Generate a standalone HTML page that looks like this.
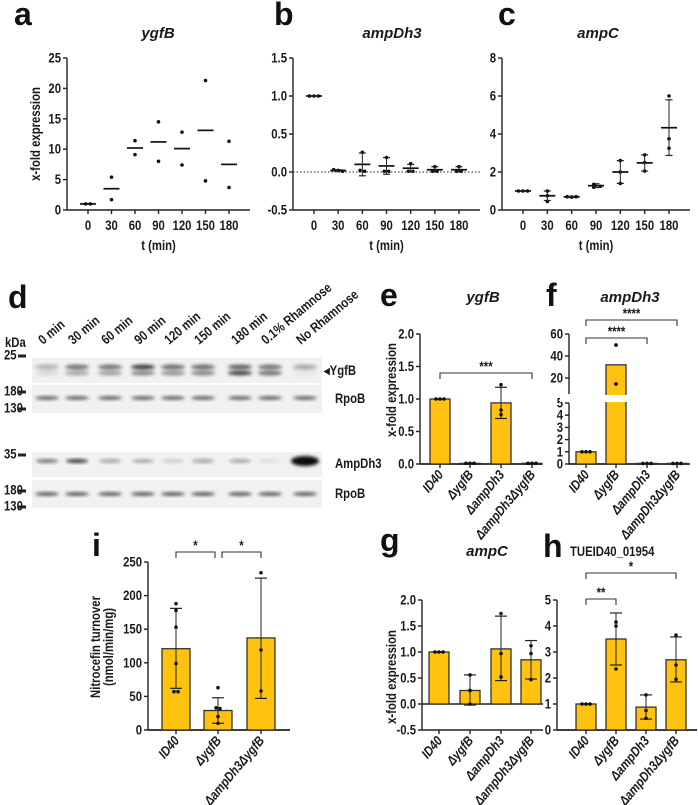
<!DOCTYPE html>
<html><head><meta charset="utf-8"><style>
body{margin:0;background:#fff}
svg{display:block;font-family:"Liberation Sans",sans-serif;font-weight:bold}
.ax{stroke:#222;stroke-width:1.4;fill:none}
.t{font-size:13.5px;fill:#1a1a1a;font-weight:bold}
.ttl{font-size:15px;font-style:italic;fill:#1a1a1a;font-weight:bold}
.let{font-size:32px;font-weight:bold;fill:#111}
</style></head><body>
<svg id="fig" width="698" height="805" viewBox="0 0 698 805"></svg>
<script>
// ---- data panel a ----
const timeCats=["0","30","60","90","120","150","180"];
const aPoints=[[1,1],[5.4,1.7],[11.4,9.1],[14.5,8.0],[12.8,7.4],[21.3,4.8],[11.3,3.7]];
const aMeans=[1,3.5,10.2,11.2,10.1,13.1,7.5];
const aTicks=[0,5,10,15,20,25];
// ---- panel b ----
const bPoints=[[1,1,1],[0.03,0.02,0.01],[0.26,0.02,0.01],[0.19,0.01,0.01],[0.11,0.01,0.01],[0.07,0.01,0.01],[0.07,0.01,0.01]];
const bMeans=[1,0.02,0.1,0.08,0.05,0.03,0.03];
const bErrLo=[1,0.01,-0.05,-0.03,0,0.0,0.0];
const bErrHi=[1,0.03,0.25,0.19,0.1,0.07,0.07];
const bTicks=[-0.5,0,0.5,1.0,1.5];
// ---- panel c ----
const cPoints=[[1,1,1],[1.0,0.75,0.45],[0.7,0.68,0.7],[1.35,1.2,1.25],[2.6,2.0,1.4],[2.9,2.5,2.05],[6.0,3.75,3.25]];
const cMeans=[1,0.75,0.69,1.28,2.0,2.48,4.33];
const cErrLo=[1,0.5,0.66,1.18,1.4,2.05,2.87];
const cErrHi=[1,1.0,0.72,1.38,2.6,2.9,5.8];
const cTicks=[0,2,4,6,8];
// ---- bar panels ----
const strains=["ID40","\u0394ygfB","\u0394ampDh3","\u0394ampDh3\u0394ygfB"];
const eVals=[1.0,0.01,0.94,0.01], eLo=[1,0.01,0.70,0.01], eHi=[1,0.01,1.18,0.01];
const ePts=[[1,1,1],[0.01,0.01,0.01],[1.22,0.83,0.76],[0.01,0.01,0.01]];
const eTicks=[0,0.5,1.0,1.5,2.0];
const fVals=[1.0,32,0.05,0.05];
const fPts=[[1,1,1],[50,14.6],[0.05,0.05,0.05],[0.05,0.05,0.05]];
const fTicksLow=[0,1,2,3,4,5], fTicksHigh=[20,40,60];
const gVals=[1.0,0.26,1.06,0.85], gLo=[1,-0.02,0.45,0.48], gHi=[1,0.56,1.69,1.22];
const gPts=[[1,1,1],[0.56,0.26,0.0],[1.74,0.97,0.52],[1.12,0.97,0.47]];
const gTicks=[-0.5,0,0.5,1.0,1.5,2.0];
const hVals=[1.0,3.5,0.88,2.7], hLo=[1,2.5,0.42,1.85], hHi=[1,4.5,1.35,3.58];
const hPts=[[1,1,1],[4.15,4.0,2.35],[1.35,0.75,0.45],[3.65,2.5,1.95]];
const hTicks=[0,1,2,3,4,5];
const iCats=["ID40","\u0394ygfB","\u0394ampDh3\u0394ygfB"];
const iVals=[121,29,137], iLo=[62,10,47], iHi=[181,48,226];
const iPts=[[188,178,153,99,57,57],[63,33,32,20,10],[234,119,58]];
const iTicks=[0,50,100,150,200,250];
const lanes=["0 min","30 min","60 min","90 min","120 min","150 min","180 min","0.1% Rhamnose","No Rhamnose"];

const S=document.getElementById('fig');const NS="http://www.w3.org/2000/svg";
function el(tag,attrs,parent){const e=document.createElementNS(NS,tag);for(const k in attrs)e.setAttribute(k,attrs[k]);(parent||S).appendChild(e);return e;}
function txt(x,y,s,cls,anchor,rot,extra,parent){const tr=`translate(${x},${y})`+(rot?` rotate(${rot})`:'')+(cls==='t'?' scale(0.84,1)':'');
 const e=el('text',Object.assign({x:0,y:0,class:cls,'text-anchor':anchor||'middle',transform:tr},extra||{}),parent);e.textContent=s;return e;}
function lin(d0,d1,r0,r1){return v=>r0+(v-d0)*(r1-r0)/(d1-d0);}
function letter(x,y,s){const t=txt(x,y,s,'let','start');

}
function yAxis(g,ax,y,ticks,top,bot,fmt){el('line',{x1:ax,y1:top,x2:ax,y2:bot,class:'ax'},g);
ticks.forEach(v=>{el('line',{x1:ax-4,y1:y(v),x2:ax,y2:y(v),class:'ax'},g);const t=txt(ax-6,y(v)+4.5,fmt?fmt(v):String(v),'t','end',0,null,g);

});}
function dot(g,x,y,r){el('circle',{cx:x,cy:y,r:r||1.8,fill:'#111'},g);}
function errbar(g,x,lo,hi,w){el('line',{x1:x,y1:lo,x2:x,y2:hi,stroke:'#222','stroke-width':1},g);
el('line',{x1:x-w,y1:lo,x2:x+w,y2:lo,stroke:'#222','stroke-width':1.2},g);el('line',{x1:x-w,y1:hi,x2:x+w,y2:hi,stroke:'#222','stroke-width':1.2},g);}
function placeDots(g,x,pts,y,sp){pts.forEach((v,j)=>{let o=0;const same=pts.filter(w=>Math.abs(y(w)-y(v))<2.5).length;if(same>1){const k=pts.slice(0,j).filter(w=>Math.abs(y(w)-y(v))<2.5).length;o=(k-(same-1)/2)*sp;}dot(g,x+o,y(v),1.8);});}

function scatterPanel(name,ax,right,d0,d1,ticks,pts,means,lo,hi,fmt,dotted){
 const g=el('g',{});
 const y=lin(d0,d1,210,58);
 yAxis(g,ax,y,ticks,58,210,fmt);
 el('line',{x1:ax,y1:210,x2:right,y2:210,class:'ax'},g);
 if(dotted)el('line',{x1:ax,y1:y(0),x2:right,y2:y(0),stroke:'#222','stroke-width':1,'stroke-dasharray':'1.5,2'},g);
 const step=(right-ax-42)/6;
 timeCats.forEach((c,i)=>{const x=ax+21+i*step;el('line',{x1:x,y1:210,x2:x,y2:214,class:'ax'},g);
  const t=txt(x,230,c,'t','middle',0,null,g);
  
  
  placeDots(g,x,pts[i],y,4.5);
  el('line',{x1:x-8,y1:y(means[i]),x2:x+8,y2:y(means[i]),stroke:'#111','stroke-width':1.7},g);
  if(lo)errbar(g,x,y(lo[i]),y(hi[i]),3.5);
 });
 const xt=txt((ax+right)/2,250,'t (min)','t','middle',0,null,g);
 
 
 return g;}

letter(14,25,'a');letter(274,25,'b');letter(498,25,'c');
txt(158,38,'ygfB','ttl');txt(392,38,'ampDh3','ttl');txt(598,38,'ampC','ttl');
scatterPanel('panel-a-ygfB',67,250,0,25,aTicks,aPoints,aMeans,null,null);
scatterPanel('panel-b-ampDh3',293,480,-0.5,1.5,bTicks,bPoints,bMeans,bErrLo,bErrHi,v=>v.toFixed(1),true);
scatterPanel('panel-c-ampC',502,690,0,8,cTicks,cPoints,cMeans,cErrLo,cErrHi);
const ya=txt(40,134,'x-fold expression','t','middle',-90);


// ---- Western blot d ----
letter(8,308,'d');
const wb=el('g',{});
const defs=el('defs',{});const f=el('filter',{id:'bl',x:'-50%',y:'-50%',width:'200%',height:'200%'},defs);el('feGaussianBlur',{stdDeviation:'1.5'},f);
const laneX=[47,77,110,143,173,203,240,270,305];
lanes.forEach((l,i)=>{const t=txt(laneX[i]-4,345,l,'t','start',-40,null,wb);
 });
txt(5,347,'kDa','t','start',0,null,wb);
const strips=[[358,383],[385,413],[452,477],[480,508]];
strips.forEach(s=>el('rect',{x:32,y:s[0],width:290,height:s[1]-s[0],fill:'#f1f1f1'},wb));
const ygf=[0.3,0.6,0.6,0.85,0.65,0.65,0.7,0.6,0.35], ygf2=[0.1,0.35,0.4,0.5,0.45,0.5,0.8,0.6,0.05];
const amp=[0.55,0.8,0.35,0.3,0.15,0.35,0.3,0.08,1.0];
laneX.forEach((x,i)=>{
 el('ellipse',{cx:x,cy:367,rx:12,ry:2.5,fill:'#222','fill-opacity':ygf[i],filter:'url(#bl)'},wb);
 el('ellipse',{cx:x,cy:373,rx:12,ry:2.5,fill:'#222','fill-opacity':ygf2[i],filter:'url(#bl)'},wb);
 el('ellipse',{cx:x,cy:398,rx:12,ry:2,fill:'#333','fill-opacity':0.7,filter:'url(#bl)'},wb);
 el('ellipse',{cx:x,cy:461,rx:i==8?14:11,ry:i==8?5:2,fill:'#111','fill-opacity':amp[i],filter:'url(#bl)'},wb);
 el('ellipse',{cx:x,cy:494,rx:12,ry:2,fill:'#333','fill-opacity':0.75,filter:'url(#bl)'},wb);
});
[[356,'25'],[392,'180'],[409,'130'],[455,'35'],[491,'180'],[507,'130']].forEach(m=>{txt(4,m[0]+3.5,m[1],'t','start',0,{'font-size':'10'},wb);el('rect',{x:18,y:m[0]-1.5,width:8,height:3,fill:'#222'},wb);});
txt(324,375,'\u25C2YgfB','t','start',0,null,wb);txt(335,403,'RpoB','t','start',0,null,wb);txt(335,468,'AmpDh3','t','start',0,null,wb);txt(335,498,'RpoB','t','start',0,null,wb);

// ---- bar panels ----
function barPanel(name,ax,right,y,ticks,cats,xs,vals,lo,hi,pts,bw,fmt,top,bot,zero){
 const g=el('g',{});
 yAxis(g,ax,y,ticks,top,bot,fmt);
 el('line',{x1:ax,y1:y(zero),x2:right,y2:y(zero),class:'ax'},g);
 el('line',{x1:ax,y1:bot,x2:right,y2:bot,class:'ax'},g);
 cats.forEach((c,i)=>{const x=xs[i];
  const b=el('rect',{x:x-bw/2,y:Math.min(y(vals[i]),y(zero)),width:bw,height:Math.max(1,Math.abs(y(zero)-y(vals[i]))),fill:'#FFC20E',stroke:'#333','stroke-width':1.3},g);
  
  if(lo)errbar(g,x,y(lo[i]),y(hi[i]),6);
  placeDots(g,x,pts[i],y,4);
  el('line',{x1:x,y1:bot,x2:x,y2:bot+4,class:'ax'},g);
  const t=txt(x+4,bot+11,c,'t','end',-50,{'font-style':'italic'},g);
  
 });
 return g;}
function bracket(x1,x2,y,s){el('path',{d:`M${x1},${y+6}V${y}H${x2}V${y+6}`,stroke:'#333',fill:'none','stroke-width':1.1});txt((x1+x2)/2,y-2,s,'t','middle',0,{'font-size':'16'});}

// e
letter(380,306,'e');txt(483,302,'ygfB','ttl');
barPanel('panel-e-ygfB',420,542,lin(0,2,464,334),eTicks,strains,[440,470,501,532],eVals,eLo,eHi,ePts,20,v=>v.toFixed(1),334,464,0);
bracket(440,532,373,'***');
const ye=txt(396,390,'x-fold expression','t','middle',-90);
// f broken axis
letter(546,306,'f');txt(630,302,'ampDh3','ttl');
const fy=v=>v<=5?lin(0,5,464,403)(v):394.5-(v-5)*1.1;
const fg=barPanel('panel-f-ampDh3',569,690,fy,fTicksLow,strains,[586,616,647,677],fVals,null,null,fPts,20,null,403,464,0);
yAxis(fg,569,fy,fTicksHigh,334,394);
el('rect',{x:560,y:395,width:70,height:7,fill:'#fff'},fg);
fPts[1].forEach(v=>dot(fg,616,fy(v),1.8));
bracket(586,647,338,'****');bracket(586,677,320,'****');
// i
letter(92,556,'i');
barPanel('panel-i-nitrocefin',148,290,lin(0,250,730,562),iTicks,iCats,[176,218,261],iVals,iLo,iHi,iPts,28,null,562,730,0);
bracket(176,215,552,'*');bracket(222,261,552,'*');
txt(100,647,'Nitrocefin turnover','t','middle',-90);
txt(113,647,'(nmol/min/mg)','t','middle',-90);
// g
letter(380,551,'g');txt(487,556,'ampC','ttl');
barPanel('panel-g-ampC',422,543,lin(-0.5,2,730,600),gTicks,strains,[439,470,501,531],gVals,gLo,gHi,gPts,20,v=>v.toFixed(1),600,730,0);
txt(396,677,'x-fold expression','t','middle',-90);
// h
letter(543,557,'h');txt(570,556,'TUEID40_01954','t','start',0,{'font-size':'17'});
barPanel('panel-h-TUEID40_01954',557,697,lin(0,5,730,600),hTicks,strains,[586,616,646,676],hVals,hLo,hHi,hPts,20,null,600,730,0);
bracket(586,616,599,'**');bracket(586,676,573,'*');
</script>
</body></html>
